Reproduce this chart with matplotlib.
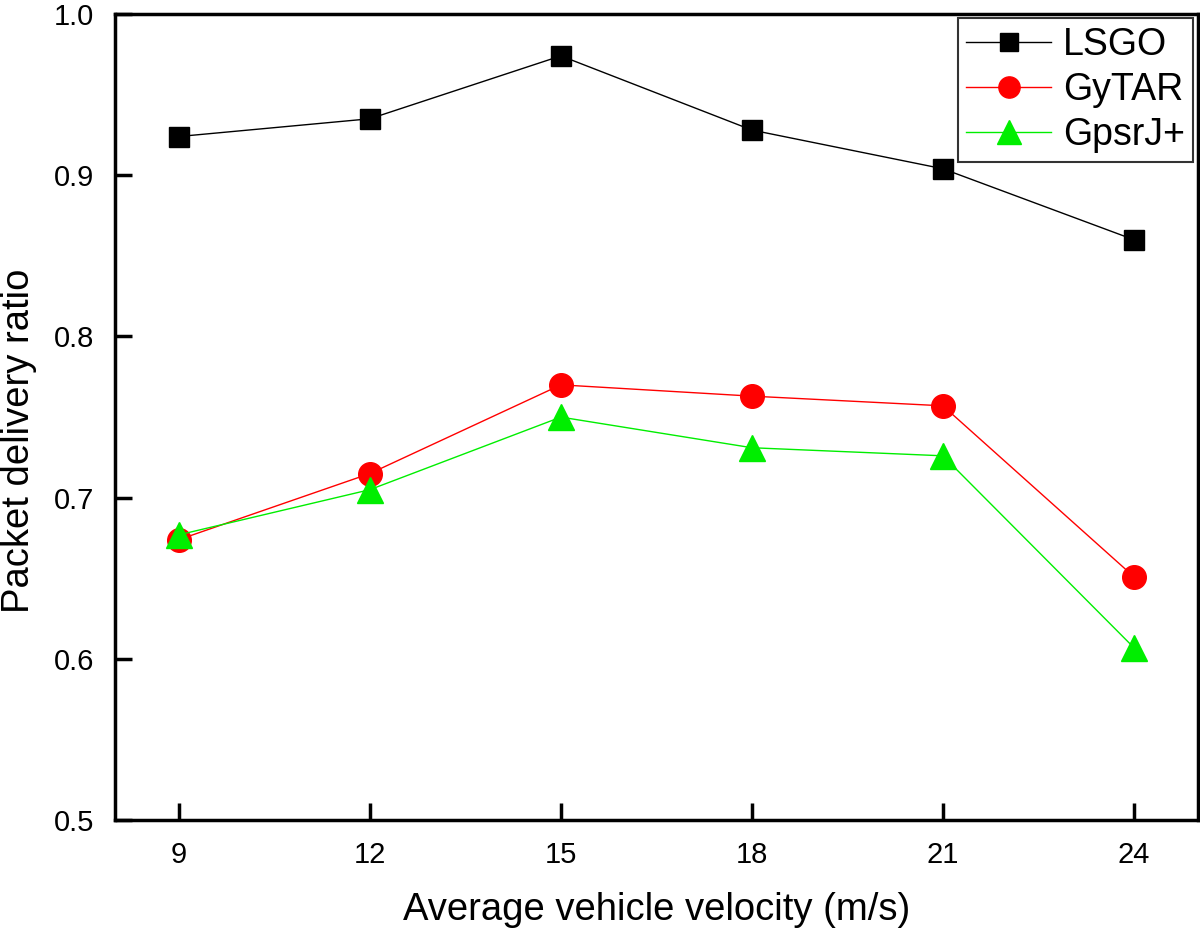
import matplotlib.pyplot as plt

plt.rcParams['font.family'] = ['Liberation Sans', 'DejaVu Sans']

velocity = [9, 12, 15, 18, 21, 24]
lsgo = [0.924, 0.935, 0.974, 0.928, 0.904, 0.860]
gytar = [0.674, 0.715, 0.770, 0.763, 0.757, 0.651]
gpsrj = [0.677, 0.705, 0.750, 0.731, 0.726, 0.607]

fig = plt.figure(figsize=(12, 9.3), dpi=100)
ax = fig.add_axes([0.096, 0.118, 0.902, 0.867])

ax.plot(velocity, lsgo, color='black', lw=1, marker='s', ms=15, label='LSGO')
ax.plot(velocity, gytar, color='red', lw=1, marker='o', ms=17, label='GyTAR')
ax.plot(velocity, gpsrj, color='#00ee00', lw=1, marker='^', ms=19, label='GpsrJ+')

ax.set_xlim(8, 25)
ax.set_ylim(0.5, 1.0)
ax.set_xticks(velocity)
ax.set_yticks([0.5, 0.6, 0.7, 0.8, 0.9, 1.0])
ax.yaxis.set_major_formatter(plt.FormatStrFormatter('%.1f'))
ax.tick_params(direction='in', length=12, width=2.5, labelsize=21, pad=15)
for s in ax.spines.values():
    s.set_linewidth(2.5)

ax.set_xlabel('Average vehicle velocity (m/s)', fontsize=27.5)
ax.xaxis.set_label_coords(0.5, -0.089)
ax.set_ylabel('Packet delivery ratio', fontsize=27.5)
ax.yaxis.set_label_coords(-0.072, 0.47)

leg = ax.legend(loc='upper right', fontsize=27, frameon=True, fancybox=False,
                edgecolor='black', borderaxespad=0.12, handlelength=2.25,
                handletextpad=0.32, borderpad=0.22, labelspacing=0.25,
                markerscale=0.9)
leg.get_frame().set_linewidth(1.5)

fig.savefig('out.png')
